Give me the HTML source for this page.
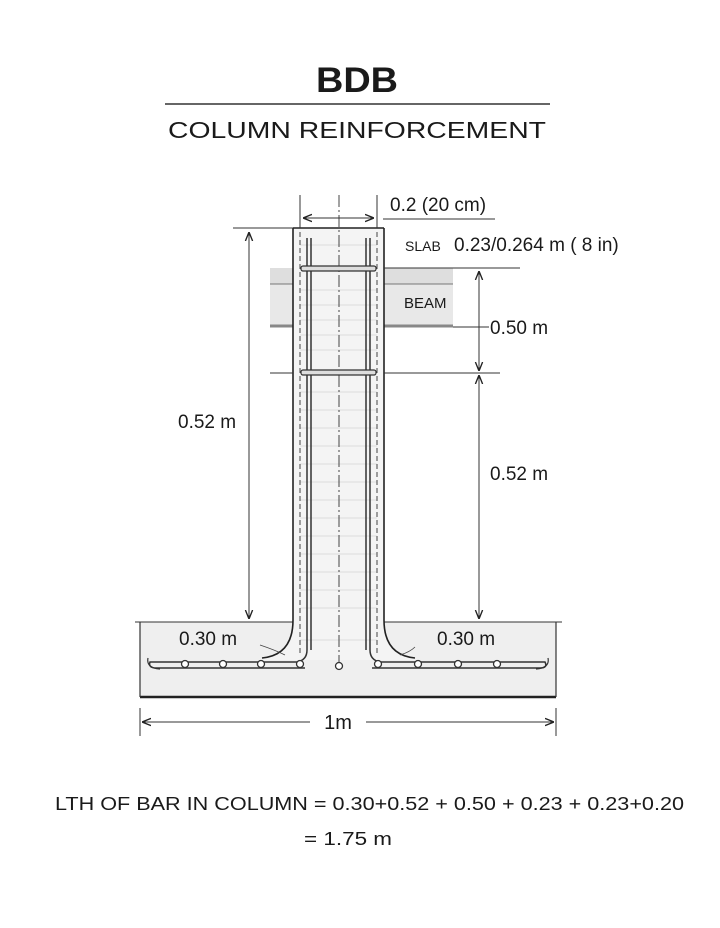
<!DOCTYPE html>
<html><head><style>
body{margin:0;background:#fff}
svg{display:block}
text{font-family:"Liberation Sans",sans-serif;fill:#1a1a1a}
</style></head><body>
<svg width="720" height="928" viewBox="0 0 720 928" xmlns="http://www.w3.org/2000/svg">
<defs>
<marker id="a" viewBox="0 0 10 10" refX="10" refY="5" markerWidth="9" markerHeight="9" orient="auto-start-reverse"><path d="M0,1 L10,5 L0,9" fill="none" stroke="#222" stroke-width="1.5"/></marker>
</defs>
<text x="316" y="92" font-size="35" font-weight="bold" textLength="82" lengthAdjust="spacingAndGlyphs">BDB</text>
<line x1="165" y1="104" x2="550" y2="104" stroke="#333" stroke-width="1.5"/>
<text x="168" y="138" font-size="23" textLength="378" lengthAdjust="spacingAndGlyphs">COLUMN REINFORCEMENT</text>

<!-- footing -->
<rect x="140" y="622" width="416" height="75" fill="#efefef"/>
<line x1="140" y1="697" x2="556" y2="697" stroke="#222" stroke-width="2.5"/>
<line x1="140" y1="622" x2="140" y2="697" stroke="#333" stroke-width="1.2"/>
<line x1="556" y1="622" x2="556" y2="697" stroke="#333" stroke-width="1.2"/>
<line x1="135" y1="622" x2="562" y2="622" stroke="#333" stroke-width="1"/>

<!-- beam -->
<rect x="270" y="268" width="183" height="59" fill="#e8e8e8"/>
<rect x="270" y="268" width="183" height="16" fill="#dedede"/>
<line x1="270" y1="284" x2="453" y2="284" stroke="#777" stroke-width="1"/>
<line x1="270" y1="326" x2="453" y2="326" stroke="#888" stroke-width="3"/>

<!-- column body with fillets -->
<path d="M293,228 L293,620 Q293,658 258,660 L420,660 Q384,658 384,620 L384,228 Z" fill="#f4f4f4"/>
<g stroke="#ddd" stroke-width="1">
<line x1="300" y1="245" x2="377" y2="245"/><line x1="300" y1="290" x2="377" y2="290"/><line x1="300" y1="305" x2="377" y2="305"/>
<line x1="300" y1="320" x2="377" y2="320"/><line x1="300" y1="335" x2="377" y2="335"/><line x1="300" y1="350" x2="377" y2="350"/>
<line x1="300" y1="392" x2="377" y2="392"/><line x1="300" y1="410" x2="377" y2="410"/><line x1="300" y1="428" x2="377" y2="428"/>
<line x1="300" y1="446" x2="377" y2="446"/><line x1="300" y1="464" x2="377" y2="464"/><line x1="300" y1="482" x2="377" y2="482"/>
<line x1="300" y1="500" x2="377" y2="500"/><line x1="300" y1="518" x2="377" y2="518"/><line x1="300" y1="536" x2="377" y2="536"/>
<line x1="300" y1="554" x2="377" y2="554"/><line x1="300" y1="572" x2="377" y2="572"/><line x1="300" y1="590" x2="377" y2="590"/>
<line x1="300" y1="608" x2="377" y2="608"/><line x1="300" y1="640" x2="377" y2="640"/>
</g>
<path d="M293,228 L384,228 M293,228 L293,620 Q293,655 262,658 M384,228 L384,620 Q384,655 415,658" fill="none" stroke="#222" stroke-width="1.6"/>
<line x1="300" y1="232" x2="300" y2="655" stroke="#444" stroke-width="1" stroke-dasharray="5,3"/>
<line x1="377" y1="232" x2="377" y2="655" stroke="#444" stroke-width="1" stroke-dasharray="5,3"/>
<line x1="339" y1="195" x2="339" y2="665" stroke="#444" stroke-width="1" stroke-dasharray="12,3,2,3"/>
<!-- bars -->
<path d="M307,238 L307,650 Q307,660 297,662 L150,662 Q148,668 156,668 L305,668" fill="none" stroke="#333" stroke-width="1.5"/>
<path d="M311,238 L311,650" fill="none" stroke="#333" stroke-width="1.5"/>
<path d="M370,238 L370,650 Q370,660 380,662 L545,662 Q548,668 540,668 L372,668" fill="none" stroke="#333" stroke-width="1.5"/>
<path d="M366,238 L366,650" fill="none" stroke="#333" stroke-width="1.5"/>
<path d="M148,658 Q146,668 160,669 M548,658 Q550,668 536,669" fill="none" stroke="#333" stroke-width="1.2"/>
<rect x="301" y="266" width="75" height="5" rx="2" fill="#ddd" stroke="#333" stroke-width="1.2"/>
<rect x="301" y="370" width="75" height="5" rx="2" fill="#ddd" stroke="#333" stroke-width="1.2"/>
<g fill="#fff" stroke="#333" stroke-width="1.3">
<circle cx="185" cy="664" r="3.5"/><circle cx="223" cy="664" r="3.5"/><circle cx="261" cy="664" r="3.5"/><circle cx="300" cy="664" r="3.5"/>
<circle cx="339" cy="666" r="3.5"/>
<circle cx="378" cy="664" r="3.5"/><circle cx="418" cy="664" r="3.5"/><circle cx="458" cy="664" r="3.5"/><circle cx="497" cy="664" r="3.5"/>
</g>
<path d="M260,645 Q275,650 285,655 M400,655 Q410,652 415,647" fill="none" stroke="#444" stroke-width="0.8"/>

<!-- top dim -->
<line x1="300" y1="195" x2="300" y2="228" stroke="#333" stroke-width="1"/>
<line x1="377" y1="195" x2="377" y2="228" stroke="#333" stroke-width="1"/>
<line x1="303" y1="218" x2="374" y2="218" stroke="#333" stroke-width="1" marker-start="url(#a)" marker-end="url(#a)"/>
<text x="390" y="211" font-size="19">0.2 (20 cm)</text>
<line x1="383" y1="219" x2="495" y2="219" stroke="#333" stroke-width="1"/>
<text x="405" y="251" font-size="14">SLAB</text>
<text x="454" y="251" font-size="19">0.23/0.264 m ( 8 in)</text>
<text x="404" y="308" font-size="15">BEAM</text>

<!-- left dim -->
<line x1="233" y1="228" x2="293" y2="228" stroke="#333" stroke-width="1"/>
<line x1="249" y1="232" x2="249" y2="619" stroke="#333" stroke-width="1" marker-start="url(#a)" marker-end="url(#a)"/>
<text x="178" y="428" font-size="19">0.52 m</text>
<line x1="270" y1="373" x2="293" y2="373" stroke="#333" stroke-width="1"/>

<!-- right dims -->
<line x1="384" y1="268" x2="520" y2="268" stroke="#333" stroke-width="1"/>
<line x1="384" y1="373" x2="500" y2="373" stroke="#333" stroke-width="1"/>
<line x1="479" y1="271" x2="479" y2="371" stroke="#333" stroke-width="1" marker-start="url(#a)" marker-end="url(#a)"/>
<line x1="479" y1="375" x2="479" y2="619" stroke="#333" stroke-width="1" marker-start="url(#a)" marker-end="url(#a)"/>
<line x1="453" y1="327" x2="489" y2="327" stroke="#333" stroke-width="1"/>
<text x="490" y="334" font-size="19">0.50 m</text>
<text x="490" y="480" font-size="19">0.52 m</text>

<text x="179" y="645" font-size="19">0.30 m</text>
<text x="437" y="645" font-size="19">0.30 m</text>

<!-- 1m -->
<line x1="140" y1="708" x2="140" y2="736" stroke="#333" stroke-width="1"/>
<line x1="556" y1="708" x2="556" y2="736" stroke="#333" stroke-width="1"/>
<line x1="142" y1="722" x2="310" y2="722" stroke="#333" stroke-width="1" marker-start="url(#a)"/>
<line x1="366" y1="722" x2="554" y2="722" stroke="#333" stroke-width="1" marker-end="url(#a)"/>
<text x="338" y="729" font-size="20" text-anchor="middle">1m</text>

<text x="55" y="810" font-size="18" textLength="629" lengthAdjust="spacingAndGlyphs">LTH OF BAR IN COLUMN = 0.30+0.52 + 0.50 + 0.23 + 0.23+0.20</text>
<text x="304" y="845" font-size="18" textLength="88" lengthAdjust="spacingAndGlyphs">= 1.75 m</text>
</svg>
</body></html>
